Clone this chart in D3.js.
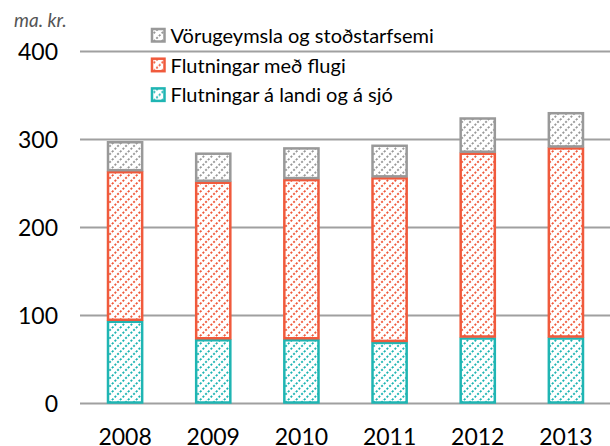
<!DOCTYPE html>
<html lang="is">
<head>
  <meta charset="UTF-8">
  <title>Chart</title>
  <script src="https://d3js.org/d3.v7.min.js"></script>
  <style>
    body { margin: 0; background: #fff; }
    text { font-family: Lato, "Open Sans", sans-serif; }
  </style>
</head>
<body>
  <script>
    var years = ["2008", "2009", "2010", "2011", "2012", "2013"];
    var landSea = [94, 73, 73, 70, 75, 75];
    var air = [170, 179, 182, 187, 210, 216];
    var storage = [34, 33, 36, 37, 40, 40];
    var seriesNames = ["Flutningar á landi og á sjó", "Flutningar með flugi", "Vörugeymsla og stoðstarfsemi"];
    var seriesColors = ["#1fb5b3", "#f05a3c", "#999999"];
    var yTicks = [0, 100, 200, 300, 400];

    var width = 610, height = 446;

    var svg = d3.select("body")
                .append("svg")
                .attr("width", width)
                .attr("height", height);

    var x = d3.scaleBand()
              .domain(years)
              .range([81, 610])
              .paddingInner(0.59)
              .paddingOuter(0.295);

    var y = d3.scaleLinear()
              .domain([0, 400])
              .range([403.5, 51.5]);

    // hatch patterns (dotted diagonals)
    var defs = svg.append("defs");
    seriesColors.forEach(function(c, i) {
      var p = defs.append("pattern")
                  .attr("id", "hatch" + i)
                  .attr("patternUnits", "userSpaceOnUse")
                  .attr("width", 8)
                  .attr("height", 8);
      p.append("rect").attr("width", 8).attr("height", 8).attr("fill", "#fff");
      p.append("path")
       .attr("d", "M0,8 L8,0 M-4,4 L4,-4 M4,12 L12,4")
       .attr("stroke", c)
       .attr("stroke-width", 1.9)
       .attr("stroke-dasharray", "2 1.77");
    });

    // gridlines
    svg.append("g")
       .selectAll("line")
       .data(yTicks)
       .enter()
       .append("line")
       .attr("x1", 80)
       .attr("x2", 610)
       .attr("y1", d => y(d))
       .attr("y2", d => y(d))
       .attr("stroke", "#a0a0a0")
       .attr("stroke-width", 2);

    svg.append("g")
       .selectAll("text")
       .data(yTicks)
       .enter()
       .append("text")
       .attr("x", 58)
       .attr("y", d => y(d) + 8)
       .attr("text-anchor", "end")
       .style("font-size", "23px")
       .style("fill", "#000")
       .text(d => d);

    svg.append("g")
       .selectAll("text")
       .data(years)
       .enter()
       .append("text")
       .attr("x", d => x(d) + x.bandwidth() / 2)
       .attr("y", 445)
       .attr("text-anchor", "middle")
       .style("font-size", "23px")
       .style("fill", "#000")
       .text(d => d);

    svg.append("text")
       .attr("x", 14)
       .attr("y", 27)
       .style("font-size", "19px")
       .style("font-style", "italic")
       .style("fill", "#555")
       .text("ma. kr.");

    // stacked bars
    var rows = years.map(function(yr, i) {
      return { year: yr, s0: landSea[i], s1: air[i], s2: storage[i] };
    });
    var stack = d3.stack().keys(["s0", "s1", "s2"])(rows);

    stack.forEach(function(layer, k) {
      svg.append("g")
         .selectAll("rect")
         .data(layer)
         .enter()
         .append("rect")
         .attr("x", d => x(d.data.year) + 1)
         .attr("width", x.bandwidth() - 2)
         .attr("y", d => y(d[1]) + 1)
         .attr("height", d => y(d[0]) - y(d[1]) - 2)
         .attr("fill", "url(#hatch" + k + ")")
         .attr("stroke", seriesColors[k])
         .attr("stroke-width", 2.5);
    });

    // legend
    var legendOrder = [2, 1, 0];
    var legend = svg.append("g")
                    .selectAll("g")
                    .data(legendOrder)
                    .enter()
                    .append("g")
                    .attr("transform", (d, i) => "translate(151," + (28 + i * 29.7) + ")");

    legend.append("rect")
          .attr("x", 1)
          .attr("y", 1)
          .attr("width", 12.5)
          .attr("height", 12.5)
          .attr("fill", d => "url(#hatch" + d + ")")
          .attr("stroke", d => seriesColors[d])
          .attr("stroke-width", 2.5);

    legend.append("text")
          .attr("x", 19.5)
          .attr("y", 15)
          .style("font-size", "20px")
          .style("fill", "#000")
          .text(d => seriesNames[d]);
  </script>
</body>
</html>
